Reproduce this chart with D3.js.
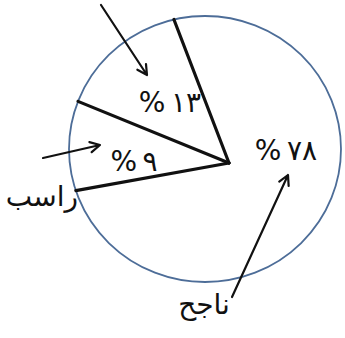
<!DOCTYPE html>
<html>
<head>
<meta charset="utf-8">
<script src="https://cdn.jsdelivr.net/npm/d3@7"></script>
<style>
  html, body { margin: 0; padding: 0; background: #fff; }
  svg { display: block; }
</style>
</head>
<body>
<div id="chart"></div>
<script>
// chart data
var categories = ["ناجح", "راسب", ""];
var values = [78, 9, 13];

var width = 345, height = 338;

// layout of the hand drawn pie: outline ellipse and the (off-centre) vertex
var outline = { cx: 205, cy: 149, rx: 136, ry: 133 };
var vertex = [229, 163];
var startDeg = -21;

// annotation placement
var pctPos = [[286, 160], [134, 171], [170, 112]];
var namePos = [[204, 314], [42, 206], null];
var arrows = [
    { from: [101, 5], to: [147, 75] },
    { from: [43, 158], to: [100, 145] },
    { from: [232, 297], to: [288, 175] }
];

function arabicDigits(n) {
    return String(n).replace(/[0-9]/g, function (d) {
        return String.fromCharCode(0x0660 + (+d));
    });
}

// where a ray from the vertex leaves the outline ellipse
function hitOutline(theta) {
    var dx = Math.sin(theta), dy = -Math.cos(theta);
    var ox = (vertex[0] - outline.cx) / outline.rx, oy = (vertex[1] - outline.cy) / outline.ry;
    var ux = dx / outline.rx, uy = dy / outline.ry;
    var a = ux * ux + uy * uy, b = 2 * (ox * ux + oy * uy), c = ox * ox + oy * oy - 1;
    var t = (-b + Math.sqrt(b * b - 4 * a * c)) / (2 * a);
    return [vertex[0] + t * dx, vertex[1] + t * dy];
}

var svg = d3.select("#chart").append("svg")
    .attr("width", width)
    .attr("height", height);

var s0 = startDeg * Math.PI / 180;
var pie = d3.pie().sort(null).startAngle(s0).endAngle(s0 + 2 * Math.PI);
var arcs = pie(values);

svg.append("ellipse")
    .attr("cx", outline.cx)
    .attr("cy", outline.cy)
    .attr("rx", outline.rx)
    .attr("ry", outline.ry)
    .style("fill", "none")
    .style("stroke", "#4d6d98")
    .style("stroke-width", 1.8);

// slice borders
svg.selectAll(".border")
    .data(arcs)
    .enter().append("line")
    .attr("class", "border")
    .attr("x1", vertex[0])
    .attr("y1", vertex[1])
    .attr("x2", function (d) { return hitOutline(d.startAngle)[0]; })
    .attr("y2", function (d) { return hitOutline(d.startAngle)[1]; })
    .style("stroke", "#111")
    .style("stroke-width", 3.2)
    .style("stroke-linecap", "round");

// arrows
var head = 11, spread = 28 * Math.PI / 180;
svg.selectAll(".arrow")
    .data(arrows)
    .enter().append("path")
    .attr("class", "arrow")
    .attr("d", function (d) {
        var ang = Math.atan2(d.to[1] - d.from[1], d.to[0] - d.from[0]);
        var p = d3.path();
        p.moveTo(d.from[0], d.from[1]);
        p.lineTo(d.to[0], d.to[1]);
        p.moveTo(d.to[0] - head * Math.cos(ang - spread), d.to[1] - head * Math.sin(ang - spread));
        p.lineTo(d.to[0], d.to[1]);
        p.lineTo(d.to[0] - head * Math.cos(ang + spread), d.to[1] - head * Math.sin(ang + spread));
        return p.toString();
    })
    .style("fill", "none")
    .style("stroke", "#111")
    .style("stroke-width", 2.2)
    .style("stroke-linecap", "round")
    .style("stroke-linejoin", "round");

// percent labels
svg.selectAll(".pct")
    .data(arcs)
    .enter().append("text")
    .attr("class", "pct")
    .attr("x", function (d, i) { return pctPos[i][0]; })
    .attr("y", function (d, i) { return pctPos[i][1]; })
    .attr("text-anchor", "middle")
    .style("direction", "ltr")
    .style("unicode-bidi", "bidi-override")
    .style("font-family", "'DejaVu Sans', sans-serif")
    .style("font-size", "28px")
    .style("fill", "#111")
    .text(function (d) { return "%\u2009" + arabicDigits(d.data); });

// category names
svg.selectAll(".name")
    .data(categories.filter(function (c, i) { return namePos[i] && c; }))
    .enter().append("text")
    .attr("class", "name")
    .attr("x", function (c) { return namePos[categories.indexOf(c)][0]; })
    .attr("y", function (c) { return namePos[categories.indexOf(c)][1]; })
    .attr("text-anchor", "middle")
    .style("font-family", "'DejaVu Sans', sans-serif")
    .style("font-size", "28px")
    .style("fill", "#111")
    .text(function (c) { return c; });
</script>
</body>
</html>
